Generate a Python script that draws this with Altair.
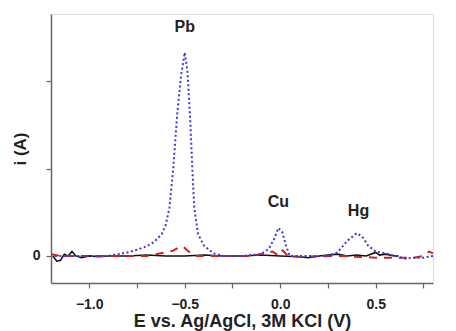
import altair as alt
import pandas as pd

# Blue dotted curve (sample with Pb, Cu, Hg)
blue_E = [-1.18, -1.1, -1.0, -0.9, -0.85, -0.8, -0.75, -0.7, -0.66, -0.62, -0.6, -0.58, -0.56,
          -0.54, -0.52, -0.5, -0.485, -0.47, -0.46, -0.45, -0.43, -0.40, -0.35, -0.3, -0.2,
          -0.1, -0.06, -0.03, -0.01, 0.01, 0.03, 0.05, 0.1, 0.25, 0.3, 0.35, 0.4, 0.43, 0.46,
          0.5, 0.55, 0.6, 0.65, 0.7, 0.75, 0.8]
blue_i = [0.0, 0.0, 0.0, 0.0, 0.02, 0.04, 0.07, 0.11, 0.16, 0.25, 0.35, 0.55, 1.0,
          1.6, 2.05, 2.33, 2.1, 1.5, 1.0, 0.55, 0.25, 0.12, 0.03, 0.0, 0.0,
          0.02, 0.08, 0.2, 0.32, 0.28, 0.12, 0.0, 0.0, 0.0, 0.04, 0.17, 0.26, 0.22, 0.12,
          0.05, 0.03, 0.0, -0.03, -0.02, -0.02, 0.0]

# Red dashed curve
red_E = [-1.2, -1.15, -1.1, -0.9, -0.7, -0.65, -0.6, -0.56, -0.53, -0.51, -0.49, -0.45,
         -0.3, -0.15, -0.08, -0.04, -0.02, 0.0, 0.02, 0.04, 0.1, 0.3, 0.5, 0.6, 0.7, 0.75,
         0.78, 0.8]
red_i = [0.02, 0.0, 0.0, 0.0, 0.0, 0.02, 0.04, 0.06, 0.1, 0.11, 0.07, 0.0,
         0.0, 0.0, 0.03, 0.05, 0.02, 0.08, 0.05, 0.0, -0.01, 0.0, -0.02, -0.02, -0.02, 0.0,
         0.05, 0.03]

# Black solid curve (blank)
black_E = [-1.19, -1.17, -1.15, -1.13, -1.11, -1.09, -1.07, -1.04, -1.0, -0.95, -0.9, -0.8,
           -0.7, -0.6, -0.5, -0.4, -0.3, -0.2, -0.1, 0.0, 0.1, 0.15, 0.2, 0.3, 0.35, 0.4,
           0.45, 0.5, 0.52, 0.55, 0.6, 0.62]
black_i = [0.0, -0.06, -0.05, 0.02, 0.0, 0.05, 0.0, -0.02, 0.0, -0.01, 0.0, 0.0,
           0.01, 0.0, 0.0, 0.01, 0.0, 0.0, 0.01, 0.0, -0.01, -0.02, 0.0, 0.02, 0.0, 0.01,
           0.0, 0.04, 0.01, 0.02, 0.0, 0.0]

# Peak labels
label_text = ["Pb", "Cu", "Hg"]
label_E = [-0.5, -0.01, 0.41]
label_i = [2.62, 0.62, 0.51]

x_ticks = [-1.0, -0.75, -0.5, -0.25, 0.0, 0.25, 0.5, 0.75]
y_ticks = [0, 1, 2]

blue_df = pd.DataFrame({"E": blue_E, "i": blue_i})
red_df = pd.DataFrame({"E": red_E, "i": red_i})
black_df = pd.DataFrame({"E": black_E, "i": black_i})
lab_df = pd.DataFrame({"t": label_text, "E": label_E, "i": label_i})

font = "Liberation Sans"
axis_color = "#666666"

x = alt.X("E:Q", scale=alt.Scale(domain=[-1.2, 0.8], nice=False, zero=False),
          axis=alt.Axis(values=x_ticks, title="E vs. Ag/AgCl, 3M KCl (V)",
                        labelExpr="(abs(datum.value*4) % 2 == 1) ? '' : format(datum.value, '.1f')",
                        grid=False, domainColor=axis_color, domainWidth=1.5,
                        tickColor=axis_color, tickWidth=1.2, tickSize=5,
                        labelFont=font, labelFontSize=14, labelFontWeight="bold",
                        labelColor="#222", labelPadding=9,
                        titleFont=font, titleFontSize=18, titleFontWeight="bold",
                        titleColor="#222", titlePadding=1))
y = alt.Y("i:Q", scale=alt.Scale(domain=[-0.31, 2.77], nice=False, zero=False),
          axis=alt.Axis(values=y_ticks, title="i (A)",
                        labelExpr="datum.value == 0 ? '0' : ''",
                        grid=False, domainColor=axis_color, domainWidth=1.5,
                        tickColor=axis_color, tickWidth=1.2, tickSize=5,
                        labelFont=font, labelFontSize=14, labelFontWeight="bold",
                        labelColor="#222", labelPadding=6,
                        titleFont=font, titleFontSize=17, titleFontWeight="bold",
                        titleColor="#222", titlePadding=3))

black = alt.Chart(black_df).mark_line(color="#111111", strokeWidth=1.6, clip=True).encode(x=x, y=y)
red = alt.Chart(red_df).mark_line(color="#cc2222", strokeWidth=2, strokeDash=[8, 7], clip=True).encode(x=x, y=y)
blue = alt.Chart(blue_df).mark_line(color="#3a3ad6", strokeWidth=2, strokeDash=[2, 2.5],
                                    clip=True).encode(x=x, y=y)
labels = alt.Chart(lab_df).mark_text(font=font, fontSize=16, fontWeight="bold",
                                     color="#222").encode(x=x, y=y, text="t:N")

chart = alt.layer(black, red, blue, labels).properties(
    width=382, height=269,
    autosize=alt.AutoSizeParams(type="none"),
    padding={"left": 43, "top": 6, "right": 10, "bottom": 48},
).configure_view(stroke=None).configure(background="white")

chart.save("out.html", embed_options={"renderer": "svg", "actions": False})
